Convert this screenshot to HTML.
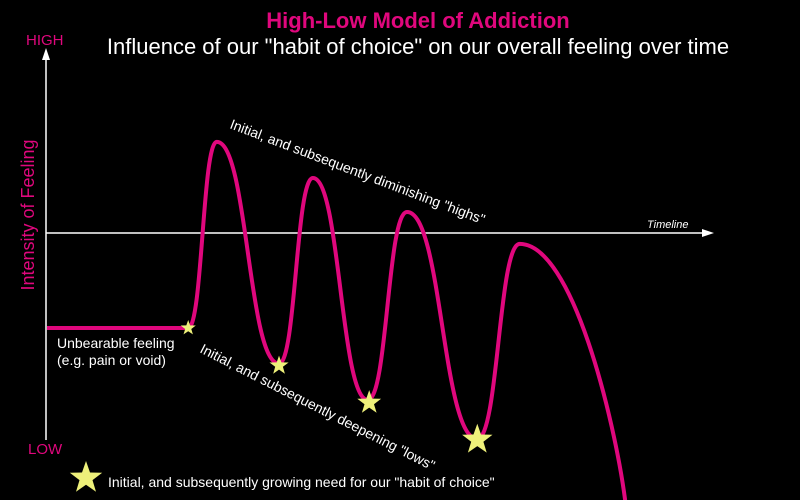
<!DOCTYPE html>
<html><head><meta charset="utf-8"><style>
html,body{margin:0;padding:0;background:#000;width:800px;height:500px;overflow:hidden}
svg{display:block;font-family:"Liberation Sans",sans-serif}
</style></head><body>
<svg id="c" width="800" height="500" viewBox="0 0 800 500">
<rect width="800" height="500" fill="#000"/>
<text x="418" y="28" text-anchor="middle" fill="#e0077d" font-size="22" font-weight="bold">High-Low Model of Addiction</text>
<text x="418" y="54" text-anchor="middle" fill="#fff" font-size="22">Influence of our "habit of choice" on our overall feeling over time</text>
<text x="26" y="45" fill="#e0077d" font-size="15">HIGH</text>
<text x="28" y="454" fill="#e0077d" font-size="15">LOW</text>
<text transform="translate(34,215) rotate(-90)" text-anchor="middle" fill="#e0077d" font-size="18">Intensity of Feeling</text>
<line x1="46" y1="440" x2="46" y2="58" stroke="#fff" stroke-width="1.5"/>
<polygon points="46,48 42,60 50,60" fill="#fff"/>
<line x1="46" y1="233" x2="704" y2="233" stroke="#fff" stroke-width="1.5"/>
<polygon points="714,233 702,229 702,237" fill="#fff"/>
<text x="647" y="228" fill="#fff" font-size="11" font-style="italic">Timeline</text>
<text transform="translate(229,128) rotate(20.8)" fill="#fff" font-size="14">Initial, and subsequently diminishing "highs"</text>
<text transform="translate(199,352) rotate(27)" fill="#fff" font-size="14">Initial, and subsequently deepening "lows"</text>
<text x="57" y="348" fill="#fff" font-size="14">Unbearable feeling</text>
<text x="57" y="365" fill="#fff" font-size="14">(e.g. pain or void)</text>
<g id="curve"></g>
<g id="stars"></g>
<text x="108" y="487" fill="#fff" font-size="14">Initial, and subsequently growing need for our "habit of choice"</text>
</svg>
<script>
// time values and feeling values of curve extrema
const times = [0, 21.3, 25.6, 35.0, 40.1, 48.4, 54.3, 64.9, 71.3, 87.2];
const feelings = [-48.7, -48.7, 46.7, -67, 28.2, -85.6, 10.8, -105.6, -5.6, -137];
// need stars: time, feeling, size
const starTimes = [21.3, 35.0, 48.6, 64.9];
const starFeelings = [-48.7, -68, -87, -106];
const starSizes = [8, 10, 12.5, 16];

const xS = t => 47 + t * 6.63;
const yS = v => 233 - v * 1.95;
const NS = 'http://www.w3.org/2000/svg';

let d = `M${xS(times[0])},${yS(feelings[0])} L${xS(times[1])},${yS(feelings[1])}`;
for (let i = 1; i < times.length - 1; i++) {
  const x0 = xS(times[i]), y0 = yS(feelings[i]), x1 = xS(times[i+1]), y1 = yS(feelings[i+1]);
  const dx = x1 - x0;
  const last = i === times.length - 2;
  d += ` C${x0 + dx*0.5},${y0} ${last ? x1 - dx*0.1 : x1 - dx*0.5},${last ? y1 - 80 : y1} ${x1},${y1}`;
}
const p = document.createElementNS(NS, 'path');
p.setAttribute('d', d);
p.setAttribute('fill', 'none');
p.setAttribute('stroke', '#e0077d');
p.setAttribute('stroke-width', '4');


document.getElementById('curve').appendChild(p);

function starPts(cx, cy, r) {
  const pts = [];
  for (let k = 0; k < 10; k++) {
    const rr = k % 2 ? r * 0.4 : r;
    const a = -Math.PI/2 + k * Math.PI/5;
    pts.push((cx + rr*Math.cos(a)).toFixed(1) + ',' + (cy + rr*Math.sin(a)).toFixed(1));
  }
  return pts.join(' ');
}
const sg = document.getElementById('stars');
for (let i = 0; i < starTimes.length; i++) {
  const s = document.createElementNS(NS, 'polygon');
  s.setAttribute('points', starPts(xS(starTimes[i]), yS(starFeelings[i]), starSizes[i]));
  s.setAttribute('fill', '#eef07a');
  
  
  sg.appendChild(s);
}
const ls = document.createElementNS(NS, 'polygon');
ls.setAttribute('points', starPts(86, 478, 17));
ls.setAttribute('fill', '#eef07a');


sg.appendChild(ls);
</script>
</body></html>
